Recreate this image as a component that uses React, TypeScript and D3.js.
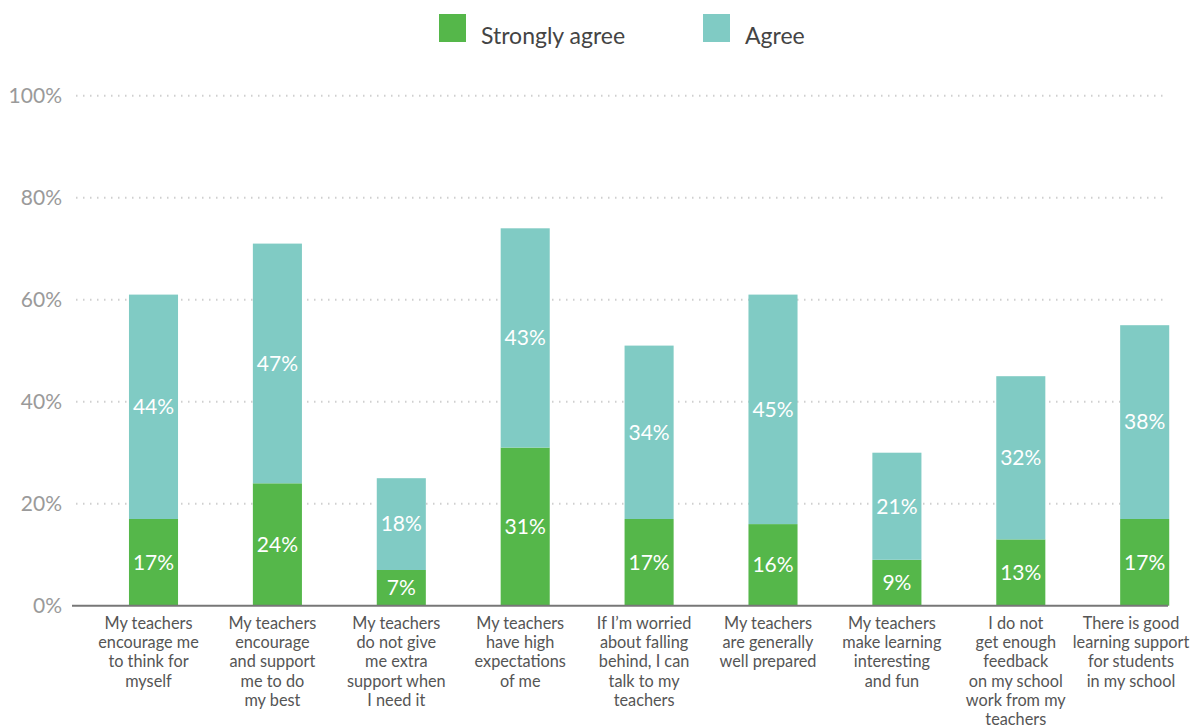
import React from "react";
import * as d3 from "d3";

const categories: string[][] = [
  ["My teachers", "encourage me", "to think for", "myself"],
  ["My teachers", "encourage", "and support", "me to do", "my best"],
  ["My teachers", "do not give", "me extra", "support when", "I need it"],
  ["My teachers", "have high", "expectations", "of me"],
  ["If I\u2019m worried", "about falling", "behind, I can", "talk to my", "teachers"],
  ["My teachers", "are generally", "well prepared"],
  ["My teachers", "make learning", "interesting", "and fun"],
  ["I do not", "get enough", "feedback", "on my school", "work from my", "teachers"],
  ["There is good", "learning support", "for students", "in my school"],
];
const stronglyAgree = [17, 24, 7, 31, 17, 16, 9, 13, 17];
const agree = [44, 47, 18, 43, 34, 45, 21, 32, 38];
const yTicks = [0, 20, 40, 60, 80, 100];
const seriesNames = ["Strongly agree", "Agree"];
const colors = ["#55b74a", "#80cbc4"];

const W = 1199;
const H = 727;
const FONT = "Lato, 'Open Sans', sans-serif";

export default function App() {
  const ids = categories.map((_, i) => String(i));
  const step = 123.9;
  const c0 = 153.5;
  const x = d3
    .scaleBand<string>()
    .domain(ids)
    .range([c0 - step / 2, c0 + step * (ids.length - 0.5)])
    .paddingInner(0.604)
    .paddingOuter(0.302);
  const y = d3.scaleLinear().domain([0, 100]).range([605.7, 95.7]);

  const stackData = ids.map((id, i) => ({ id, s: stronglyAgree[i], a: agree[i] }));
  const stack = d3.stack<any>().keys(["s", "a"])(stackData);

  const axisLeft = 72;
  const axisRight = 1168;

  return (
    <svg
      width={W}
      height={H}
      style={{ position: "absolute", left: 0, top: 0, background: "#fff" }}
      fontFamily={FONT}
    >
      {/* legend */}
      <g>
        <rect x={439} y={14} width={27} height={28} fill={colors[0]} />
        <text x={481} y={44} fontSize={23} fill="#444">{seriesNames[0]}</text>
        <rect x={703} y={14} width={27} height={28} fill={colors[1]} />
        <text x={745} y={44} fontSize={23} fill="#444">{seriesNames[1]}</text>
      </g>
      {/* grid */}
      {yTicks.map((t) => (
        <g key={t}>
          {t > 0 && (
            <line
              x1={76}
              x2={1165}
              y1={y(t)}
              y2={y(t)}
              stroke="#cfcfcf"
              strokeWidth={2}
              strokeDasharray="1.5,5.5"
            />
          )}
          <text
            x={62}
            y={y(t)}
            dy="0.35em"
            textAnchor="end"
            fontSize={21}
            fill="#9a9a9a"
          >
            {t}%
          </text>
        </g>
      ))}
      {/* bars */}
      {stack.map((layer, li) => (
        <g key={li}>
          {layer.map((d, i) => {
            const x0 = x(ids[i])!;
            const y0 = y(d[0]);
            const y1 = y(d[1]);
            const v = d[1] - d[0];
            return (
              <g key={i}>
                <rect x={x0} y={y1} width={x.bandwidth()} height={y0 - y1} fill={colors[li]} />
                <text
                  x={x0 + x.bandwidth() / 2}
                  y={(y0 + y1) / 2}
                  dy="0.35em"
                  textAnchor="middle"
                  fontSize={21}
                  fill="#fff"
                >
                  {v}%
                </text>
              </g>
            );
          })}
        </g>
      ))}
      {/* axis line */}
      <line x1={axisLeft} x2={axisRight} y1={y(0)} y2={y(0)} stroke="#777" strokeWidth={2} />
      {/* category labels */}
      {categories.map((lines, i) => {
        const cx = Math.min(x(ids[i])! + x.bandwidth() / 2 - 5, 1131);
        return (
          <text key={i} textAnchor="middle" fontSize={16.3} fill="#555">
            {lines.map((l, j) => (
              <tspan key={j} x={cx} y={629 + j * 19.2}>
                {l}
              </tspan>
            ))}
          </text>
        );
      })}
    </svg>
  );
}
